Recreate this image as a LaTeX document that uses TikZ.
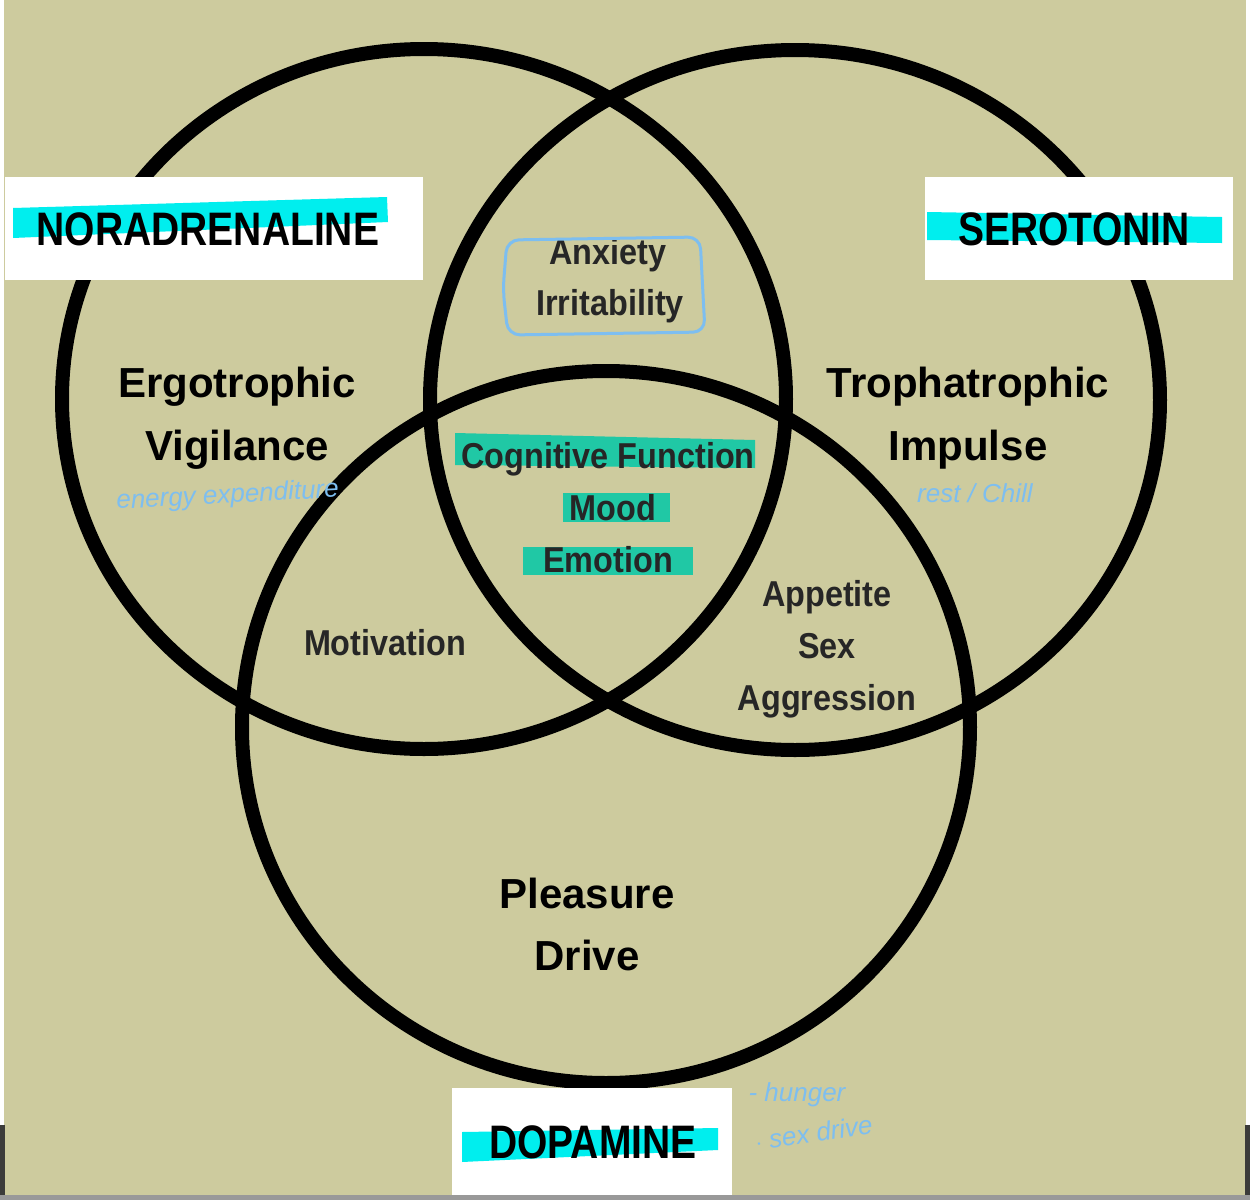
\documentclass[tikz,border=0pt]{standalone}
\usepackage{fontspec}
\setmainfont{Liberation Sans}
\definecolor{bgk}{RGB}{205,203,158}
\definecolor{hlcyan}{RGB}{0,238,238}
\definecolor{hlteal}{RGB}{32,200,165}
\definecolor{pen}{RGB}{125,190,240}
\definecolor{edgegray}{RGB}{60,60,58}
\tikzset{
  ring/.style={draw=black,line width=7pt},
  labelbox/.style={fill=white,draw=none},
  bigname/.style={font=\bfseries\fontsize{23.5}{24}\selectfont,xscale=0.83,anchor=base,inner sep=0pt},
  region/.style={font=\bfseries\fontsize{21}{21}\selectfont,anchor=base,inner sep=0pt},
  small/.style={font=\bfseries\fontsize{18}{18}\selectfont,xscale=0.9,anchor=base,inner sep=0pt,text=black!85},
  hand/.style={font=\itshape\fontsize{13}{13}\selectfont,text=pen,anchor=base,inner sep=0pt},
}
\begin{document}
\begin{tikzpicture}[x=0.5pt,y=-0.5pt]
\useasboundingbox (0,0) rectangle (1250,1200);
% background
\fill[bgk] (0,0) rectangle (1250,1200);
\fill[white] (0,0) rectangle (4,1125);
\fill[white] (1246,0) rectangle (1250,1125);
\fill[edgegray] (0,1125) rectangle (5,1200);
\fill[edgegray] (1245,1125) rectangle (1250,1200);
\fill[black!40] (0,1195) rectangle (1250,1200);
% circles
\draw[ring] (424,399) ellipse[x radius=362,y radius=350];
\draw[ring] (795,400) ellipse[x radius=365,y radius=350];
\draw[ring] (606,727) ellipse[x radius=364,y radius=356];
% label boxes
\fill[labelbox] (5,177) rectangle (423,280);
\fill[labelbox] (925,177) rectangle (1233,280);
\fill[labelbox] (452,1088) rectangle (732,1195);
% highlights
\fill[hlcyan] (13,208) -- (387,197) -- (388,222) -- (13,238) -- cycle;
\fill[hlcyan] (927,212) -- (1222,217) -- (1222,243) -- (927,240) -- cycle;
\fill[hlcyan] (462,1132) -- (718,1128) -- (718,1150) -- (462,1162) -- cycle;
\fill[hlteal] (455,433) -- (755,440) -- (755,468) -- (455,465) -- cycle;
\fill[hlteal] (563,493) rectangle (670,522);
\fill[hlteal] (523,547) rectangle (693,575);
% neurotransmitter names
\node[bigname] (nor) at (208,245) {NORADRENALINE};
\node[bigname] (ser) at (1074,245) {SEROTONIN};
\node[bigname] (dop) at (593,1158) {DOPAMINE};
% regions
\node[region] (ergo) at (237,397) {Ergotrophic};
\node[region] (vig) at (237,460) {Vigilance};
\node[region] (tropha) at (968,397) {Trophatrophic};
\node[region] (imp) at (968,460) {Impulse};
\node[region] (plea) at (587,908) {Pleasure};
\node[region] (drive) at (587,970) {Drive};
\node[small] (anx) at (608,264) {Anxiety};
\node[small] (irr) at (610,315) {Irritability};
\node[small] (cog) at (608,468) {Cognitive Function};
\node[small] (mood) at (613,520) {Mood};
\node[small] (emo) at (608,572) {Emotion};
\node[small] (mot) at (385,655) {Motivation};
\node[small] (app) at (827,606) {Appetite};
\node[small] (sex) at (827,658) {Sex};
\node[small] (agg) at (827,710) {Aggression};
% hand annotations
\draw[pen,line width=1.5pt,rounded corners=6pt] (507,240) -- (700,237) -- (705,332) -- (508,335) -- (503,290) -- cycle;
\node[hand,rotate=3] (energy) at (228,503) {energy expenditure};
\node[hand] (rest) at (975,502) {rest / Chill};
\node[hand] (hunger) at (797,1101) {- hunger};
\node[hand,rotate=8] (sexdrive) at (815,1142) {$\cdot$ sex drive};
\end{tikzpicture}
\end{document}
